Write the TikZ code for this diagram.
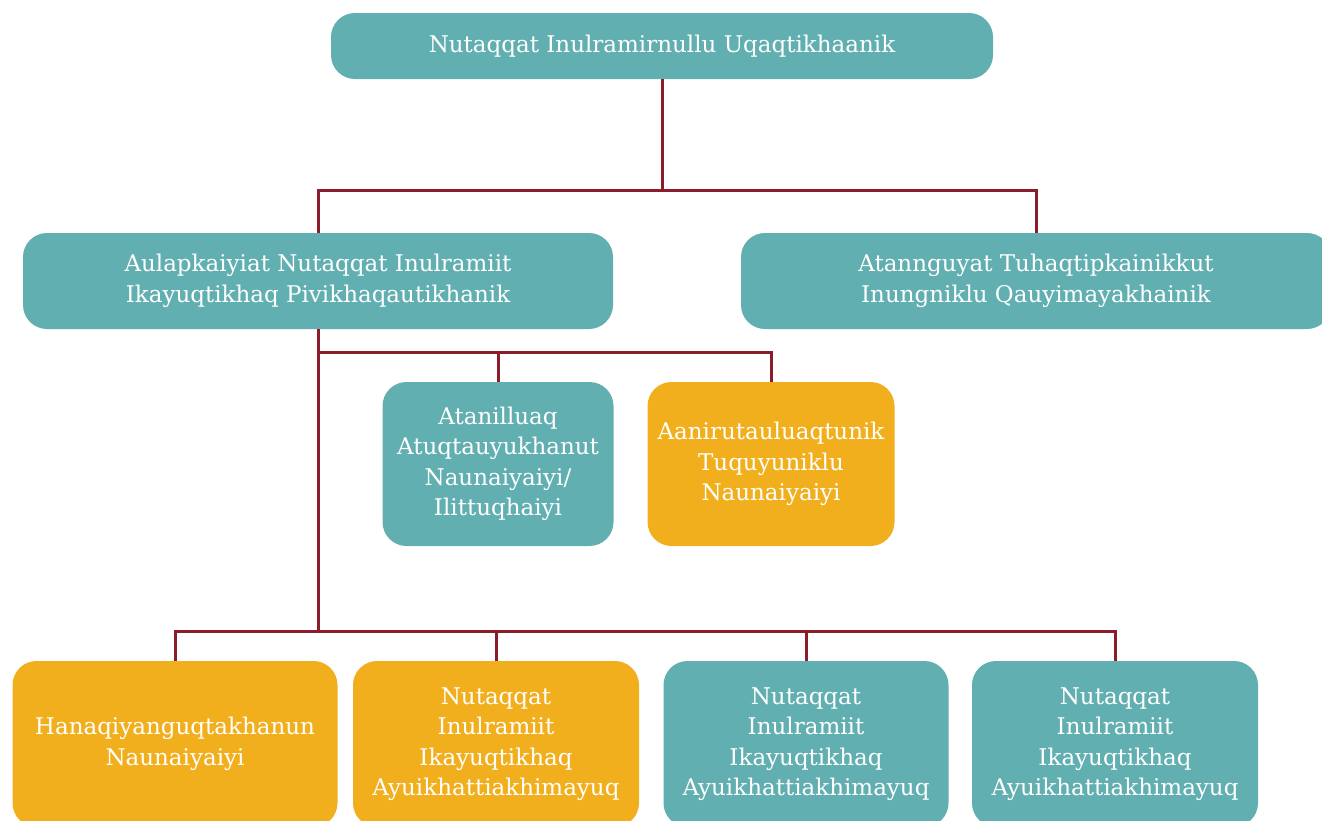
\documentclass[tikz,border=0pt]{standalone}
\usepackage{fontspec}
\setmainfont{DejaVu Serif}
\usetikzlibrary{positioning}
\usetikzlibrary{calc}
\definecolor{tealbox}{HTML}{62AFB1}
\definecolor{goldbox}{HTML}{F2AF1D}
\definecolor{linkred}{HTML}{8B1C2A}

\begin{document}
\begin{tikzpicture}[x=1pt,y=-1pt,
    box/.style={fill=tealbox,rounded corners=24pt,text=white,align=center,
        font=\fontsize{23}{30.5}\selectfont,inner sep=0pt},
    goldcard/.style={box,fill=goldbox},
    conn/.style={draw=linkred,line width=3pt}]
    \useasboundingbox (0,0) rectangle (1322,820);
    % top level
    \node[box,minimum width=662pt,minimum height=66pt] (top) at (662,46) {Nutaqqat Inulramirnullu Uqaqtikhaanik};
    % second level
    \node[box,minimum width=590pt,minimum height=96pt] (left) at (318,281) {Aulapkaiyiat Nutaqqat Inulramiit\\Ikayuqtikhaq Pivikhaqautikhanik};
    \node[box,minimum width=590pt,minimum height=96pt] (right) at (1036,281) {Atannguyat Tuhaqtipkainikkut\\Inungniklu Qauyimayakhainik};
    % middle row
    \node[box,minimum width=231pt,minimum height=164pt] (midA) at (498,464) {Atanilluaq\\Atuqtauyukhanut\\Naunaiyaiyi/\\Ilittuqhaiyi};
    \node[goldcard,minimum width=247pt,minimum height=164pt] (midB) at (771,464) {Aanirutauluaqtunik\\Tuquyuniklu\\Naunaiyaiyi};
    % bottom row
    \node[goldcard,minimum width=325pt,minimum height=166pt] (botA) at (175,744) {Hanaqiyanguqtakhanun\\Naunaiyaiyi};
    \node[goldcard,minimum width=286pt,minimum height=166pt] (botB) at (496,744) {Nutaqqat\\Inulramiit\\Ikayuqtikhaq\\Ayuikhattiakhimayuq};
    \node[box,minimum width=285pt,minimum height=166pt] (botC) at (806,744) {Nutaqqat\\Inulramiit\\Ikayuqtikhaq\\Ayuikhattiakhimayuq};
    \node[box,minimum width=286pt,minimum height=166pt] (botD) at (1115,744) {Nutaqqat\\Inulramiit\\Ikayuqtikhaq\\Ayuikhattiakhimayuq};
    % connectors
    \draw[conn] (top.south) -- ++(0,111) coordinate (busA);
    \draw[conn] (left.north) |- (busA) -| (right.north);
    \draw[conn] (left.south) -- ++(0,302) coordinate (busC);
    \path (left.south) ++(0,23) coordinate (busB);
    \draw[conn] (busB) -| (midA.north);
    \draw[conn] (busB) -| (midB.north);
    \foreach \b in {botA,botB,botC,botD}
        \draw[conn] (busC) -| (\b.north);
\end{tikzpicture}
\end{document}
